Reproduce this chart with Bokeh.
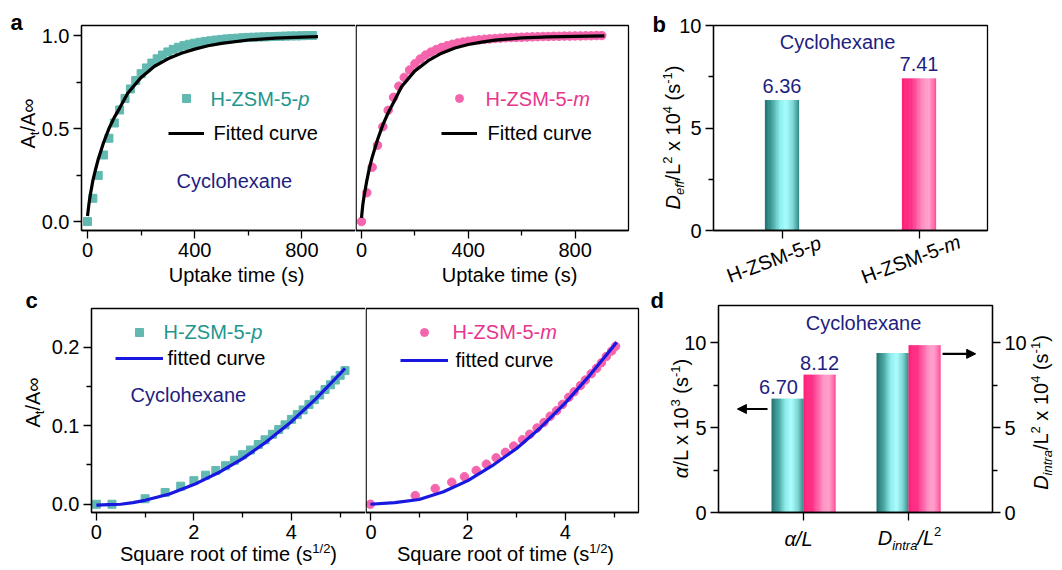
import math
from bokeh.plotting import figure
from bokeh.models import (Range1d, FixedTicker, PrintfTickFormatter, Label, Legend, LegendItem,
                          LinearAxis, Arrow, NormalHead, BoxAnnotation)
from bokeh.layouts import row, column
from bokeh.embed import file_html
from bokeh.resources import INLINE

FONT = "Liberation Sans"

# ------------------------------------------------------------------ data
# panel a : uptake curves (time in s, A_t/A_inf)
t_p = [0, 20, 40, 60, 80, 100, 120, 140, 160, 180, 200, 220, 240, 260, 280, 300, 320, 340,
       360, 380, 400, 420, 440, 460, 480, 500, 520, 540, 560, 580, 600, 620, 640, 660, 680,
       700, 720, 740, 760, 780, 800, 820, 840]
A_p = [0.000, 0.125, 0.248, 0.358, 0.448, 0.530, 0.600, 0.662, 0.713, 0.758, 0.795, 0.826,
       0.852, 0.875, 0.895, 0.912, 0.926, 0.937, 0.946, 0.953, 0.959, 0.964, 0.968, 0.972,
       0.976, 0.979, 0.982, 0.984, 0.986, 0.988, 0.990, 0.991, 0.992, 0.993, 0.994, 0.995,
       0.996, 0.997, 0.998, 0.998, 0.999, 1.000, 1.000]
fit_t_p = [0, 5, 10, 20, 30, 40, 60, 80, 100, 120, 150, 200, 250, 300, 350, 400, 450, 500,
           600, 700, 800, 860]
fit_A_p = [0.03, 0.09, 0.14, 0.22, 0.28, 0.335, 0.425, 0.50, 0.56, 0.61, 0.69, 0.775, 0.835,
           0.875, 0.905, 0.927, 0.945, 0.958, 0.976, 0.986, 0.992, 0.994]

t_m = [0, 20, 40, 60, 80, 100, 120, 140, 160, 180, 200, 220, 240, 260, 280, 300, 320, 340,
       360, 380, 400, 420, 440, 460, 480, 500, 520, 540, 560, 580, 600, 620, 640, 660, 680,
       700, 720, 740, 760, 780, 800, 820, 840, 860, 880, 900]
A_m = [0.000, 0.155, 0.292, 0.410, 0.510, 0.598, 0.668, 0.728, 0.775, 0.815, 0.848, 0.874,
       0.895, 0.911, 0.925, 0.936, 0.945, 0.953, 0.960, 0.965, 0.970, 0.974, 0.977, 0.980,
       0.982, 0.984, 0.986, 0.988, 0.989, 0.990, 0.991, 0.992, 0.993, 0.994, 0.995, 0.995,
       0.996, 0.996, 0.997, 0.997, 0.998, 0.998, 0.999, 0.999, 1.000, 1.000]
fit_t_m = [0, 5, 10, 20, 30, 40, 60, 80, 100, 120, 150, 200, 250, 300, 350, 400, 450, 500,
           600, 700, 800, 910]
fit_A_m = [0.02, 0.09, 0.14, 0.22, 0.29, 0.345, 0.44, 0.52, 0.585, 0.64, 0.725, 0.81, 0.865,
           0.905, 0.933, 0.952, 0.965, 0.975, 0.987, 0.993, 0.996, 0.998]

# panel c : initial uptake vs square root of time
sq_p = [0, 0.32, 1.0, 1.41, 1.73, 2.0, 2.24, 2.45, 2.65, 2.83, 3.0, 3.16, 3.32, 3.46, 3.61,
        3.74, 3.87, 4.0, 4.12, 4.24, 4.36, 4.47, 4.58, 4.69, 4.80, 4.90, 5.0, 5.10]
Ai_p = [0.000, 0.000, 0.007, 0.015, 0.023, 0.030, 0.037, 0.043, 0.049, 0.056, 0.063, 0.069,
        0.076, 0.082, 0.089, 0.095, 0.101, 0.108, 0.114, 0.120, 0.127, 0.133, 0.139, 0.146,
        0.152, 0.158, 0.164, 0.170]
fit_sq_p = [0, 0.25, 0.5, 0.75, 1.0, 1.5, 2.0, 2.5, 3.0, 3.5, 4.0, 4.5, 5.0, 5.1]
fit_Ai_p = [-0.001, -0.0005, 0.0, 0.002, 0.005, 0.013, 0.025, 0.040, 0.058, 0.080, 0.105,
            0.134, 0.166, 0.173]

sq_m = [0, 0.92, 1.33, 1.67, 1.93, 2.17, 2.38, 2.58, 2.77, 2.94, 3.12, 3.27, 3.42, 3.56,
        3.69, 3.82, 3.94, 4.07, 4.18, 4.31, 4.41, 4.53, 4.64, 4.74, 4.84, 4.95, 5.03]
Ai_m = [0.000, 0.011, 0.020, 0.028, 0.035, 0.043, 0.051, 0.059, 0.066, 0.074, 0.082, 0.089,
        0.097, 0.104, 0.112, 0.119, 0.127, 0.136, 0.143, 0.151, 0.158, 0.166, 0.173, 0.180,
        0.188, 0.195, 0.201]
fit_sq_m = [0, 0.5, 1.0, 1.5, 2.0, 2.5, 3.0, 3.5, 4.0, 4.5, 5.0, 5.05]
fit_Ai_m = [0.0, 0.002, 0.006, 0.016, 0.030, 0.049, 0.071, 0.098, 0.129, 0.164, 0.202, 0.206]

# panels b, d : bar values
samples = ["H-ZSM-5-", "H-ZSM-5-"]
sample_suffix = ["p", "m"]
deff = [6.36, 7.41]          # D_eff/L^2 x 10^4 (s^-1)
alpha_L = [6.70, 8.12]       # alpha/L x 10^3 (s^-1)
dintra = [9.40, 9.85]        # D_intra/L^2 x 10^4 (s^-1)

# ------------------------------------------------------------------ style
TEAL_M = "#62b9b1"
TEAL_T = "#22968c"
PINK_M = "#f565ad"
PINK_T = "#e8368d"
NAVY = "#1e1e80"
BLUE = "#1818e0"
CYAN_STOPS = [(0.0, "#1d6f6c"), (0.2, "#3d9d99"), (0.45, "#8eeeee"), (0.62, "#a6fdfd"),
              (0.82, "#7cd6d4"), (1.0, "#2c8581")]
PINK_STOPS = [(0.0, "#ff1a73"), (0.3, "#ff3088"), (0.6, "#ff8cc0"), (0.78, "#ffa2cd"),
              (1.0, "#ff4b98")]

NBSP = "\u00a0"
CW = {' ': .278, NBSP: .278, '(': .333, ')': .333, '-': .333, '.': .278, '/': .278,
      'A': .667, 'C': .722, 'D': .722, 'F': .611, 'H': .722, 'L': .556, 'M': .833, 'S': .667,
      'U': .722, 'Z': .611, 'a': .556, 'c': .5, 'd': .556, 'e': .556, 'f': .278, 'h': .556,
      'i': .222, 'k': .5, 'l': .222, 'm': .833, 'n': .556, 'o': .556, 'p': .556, 'q': .556,
      'r': .333, 's': .5, 't': .278, 'u': .556, 'v': .5, 'x': .5, 'y': .5, '∞': .713, 'α': .578}
BASE_FIX = 0.38   # empirical: the label anchor behaves like the text's middle

ORIGIN = {}       # per figure: pixel position of the plot box's bottom-left corner


def text_w(s, size):
    return sum(CW.get(c, .556) for c in s) * size


def keep_spaces(s):
    # SVG collapses leading / trailing blanks: make them non-breaking
    n0 = len(s) - len(s.lstrip(" "))
    n1 = len(s) - len(s.rstrip(" "))
    core = s.strip(" ")
    return NBSP * n0 + core + NBSP * n1


def rich(p, segs, x=None, y=None, dx=0.0, dy=0.0, angle=0.0, align="left", vcenter=False,
         y_range_name="default"):
    """Rich text made of several Labels.  Without x/y the offsets are pixels from the
    plot box's bottom-left corner (y up); with x/y they are pixels from that data point."""
    if x is None:
        units, x, y = "screen", 0, 0
        bx, by = ORIGIN[p.id]
        dx, dy = dx + bx, dy + by
    else:
        units = "data"
    total = sum(text_w(s[0], s[1]) for s in segs)
    pos = {"left": 0.0, "center": -total / 2, "right": -total}[align]
    ca, sa = math.cos(angle), math.sin(angle)
    base = -0.36 * segs[0][1] if vcenter else 0.0
    for txt_, size, style, shift, color in segs:
        perp = base + shift + BASE_FIX * size
        ox = dx + pos * ca - perp * sa
        oy = dy + pos * sa + perp * ca
        p.add_layout(Label(x=x, y=y, x_units=units, y_units=units, x_offset=ox, y_offset=oy,
                           text=keep_spaces(txt_), angle=angle, text_font=FONT,
                           text_font_size=f"{size}px", text_font_style=style,
                           text_color=color, text_align="left", text_baseline="alphabetic",
                           y_range_name=y_range_name))
        pos += text_w(txt_, size)


def interp_color(stops, f):
    for (f0, c0), (f1, c1) in zip(stops, stops[1:]):
        if f0 <= f <= f1:
            u = (f - f0) / (f1 - f0)
            a = [int(c0[i:i + 2], 16) for i in (1, 3, 5)]
            b = [int(c1[i:i + 2], 16) for i in (1, 3, 5)]
            return "#%02x%02x%02x" % tuple(round(a[k] + (b[k] - a[k]) * u) for k in range(3))
    return stops[-1][1]


def gbar(p, xc, top, width, stops, n=60, y_range_name="default"):
    xs, tops, cols = [], [], []
    sw = width / n
    for i in range(n):
        xs.append(xc - width / 2 + (i + 0.5) * sw + (0.4 * sw if i < n - 1 else 0))
        tops.append(top)
        cols.append(interp_color(stops, (i + 0.5) / n))
    widths = [sw * 1.8 if i < n - 1 else sw for i in range(n)]
    p.vbar(x=xs, top=tops, bottom=0, width=widths, fill_color=cols, line_color=None,
           y_range_name=y_range_name)


def full_range(d0, d1, p0, p1, total):
    s = (d1 - d0) / (p1 - p0)
    return (d0 - p0 * s, d1 + (total - p1) * s)


def style_axis(ax, ticks, minor, fmt=None):
    ax.ticker = FixedTicker(ticks=ticks, minor_ticks=minor)
    ax.major_tick_out = 8
    ax.major_tick_in = 0
    ax.minor_tick_out = 5
    ax.minor_tick_in = 0
    ax.axis_line_color = "black"
    ax.axis_line_width = 1.3
    ax.major_tick_line_color = "black"
    ax.major_tick_line_width = 1.3
    ax.minor_tick_line_color = "black"
    ax.minor_tick_line_width = 1.3
    ax.major_label_text_font = FONT
    ax.major_label_text_font_size = "20px"
    ax.major_label_text_color = "black"
    ax.major_label_standoff = 4
    if fmt:
        ax.formatter = PrintfTickFormatter(format=fmt)


def make_fig(w, h, box_px, box_data, yaxis=True, edge=(0, 0)):
    """Figure whose frame fills the canvas; the visible plot box and its axes are
    placed at box_px = (left, top, right, bottom) pixels, showing box_data ranges.
    edge = pixel shifts of the drawn box's left / right edges."""
    bl, bt, br, bb = box_px
    x0, x1, y0, y1 = box_data
    xr = full_range(x0, x1, bl, br, w)
    yr = full_range(y0, y1, h - bb, h - bt, h)
    sx = (x1 - x0) / (br - bl)
    kw = {} if yaxis else {"y_axis_location": None}
    p = figure(width=w, height=h, x_range=Range1d(*xr), y_range=Range1d(*yr),
               output_backend="svg", toolbar_location=None, tools="",
               min_border_left=0, min_border_right=0, min_border_top=0, min_border_bottom=0,
               **kw)
    p.grid.visible = False
    p.outline_line_color = None
    p.background_fill_color = "white"
    p.border_fill_color = "white"
    p.xaxis[0].fixed_location = y0
    p.xaxis[0].bounds = (x0, x1)
    if yaxis:
        p.yaxis[0].fixed_location = x0
        p.yaxis[0].bounds = (y0, y1)
    p.add_layout(BoxAnnotation(left=x0 + edge[0] * sx, right=x1 + edge[1] * sx, bottom=y0,
                               top=y1, fill_color=None, fill_alpha=0, line_color="black",
                               line_width=1.3, line_alpha=1.0))
    ORIGIN[p.id] = (bl, h - bb)
    return p


def add_legend(p, rs, loc, gw, spacing):
    bx, by = ORIGIN[p.id]
    items = [LegendItem(label=" ", renderers=[r]) for r in rs]
    leg = Legend(items=items, location=(loc[0] + bx, loc[1] + by), orientation="vertical",
                 glyph_width=gw, glyph_height=20, label_width=1, label_height=20,
                 label_standoff=0, spacing=spacing, padding=0, margin=0,
                 border_line_color=None, background_fill_alpha=0, label_text_font_size="1px")
    p.add_layout(leg)


def sub(t, size=13, style="normal", color="black"):
    return (t, size, style, -4, color)


def sup(t, size=13, style="normal", color="black"):
    return (t, size, style, 8, color)


def txt(t, size=20, style="normal", color="black"):
    return (t, size, style, 0, color)


def frame_x(v, x0, x1, fw):
    return (v - x0) / (x1 - x0) * fw


HALF_PI = math.pi / 2
H_TOP, H_BOT = 288, 282

# ------------------------------------------------------------------ panel a (left)
BOX_A = (-22.4, 1000, -0.048, 1.054)
pa1 = make_fig(355, H_TOP, (81, 25, 355, 230), BOX_A, edge=(0, 3))
style_axis(pa1.xaxis[0], [0, 400, 800], [200, 600])
style_axis(pa1.yaxis[0], [0, 0.5, 1.0], [0.25, 0.75], "%.1f")
r1 = pa1.scatter(t_p, A_p, marker="square", size=8, color=TEAL_M)
r2 = pa1.line(fit_t_p, fit_A_p, line_width=3.2, color="black")
add_legend(pa1, [r1, r2], (87, 87), 36, 15)
rich(pa1, [txt("A"), sub("t"), txt("/A"), txt("∞")], dx=-46, dy=107, angle=HALF_PI,
     align="center")
rich(pa1, [txt("Uptake time (s)")], dx=155, dy=-52, align="center")
rich(pa1, [txt("a", 22, "bold")], dx=-71, dy=200)
rich(pa1, [txt(samples[0], color=TEAL_T), txt(sample_suffix[0], style="italic", color=TEAL_T)],
     dx=129, dy=124)
rich(pa1, [txt("Fitted curve")], dx=132, dy=90)
rich(pa1, [txt("Cyclohexane", color=NAVY)], dx=95, dy=42)

# ------------------------------------------------------------------ panel a (right)
pa2 = make_fig(285, H_TOP, (0, 25, 273, 230), BOX_A, yaxis=False, edge=(0.65, 0))
style_axis(pa2.xaxis[0], [0, 400, 800], [200, 600])
r3 = pa2.scatter(t_m, A_m, marker="circle", size=8.5, color=PINK_M)
r4 = pa2.line(fit_t_m, fit_A_m, line_width=3.2, color="black")
add_legend(pa2, [r3, r4], (86, 87), 36, 15)
rich(pa2, [txt("Uptake time (s)")], dx=154, dy=-52, align="center")
rich(pa2, [txt(samples[1], color=PINK_T), txt(sample_suffix[1], style="italic", color=PINK_T)],
     dx=130, dy=124)
rich(pa2, [txt("Fitted curve")], dx=132, dy=90)

# ------------------------------------------------------------------ panel b
BOX_B = (-0.5, 1.5, 0, 10)
FW = 274
pb = make_fig(422, H_TOP, (73, 25, 347, 230), BOX_B)
style_axis(pb.xaxis[0], [0, 1], [])
pb.xaxis[0].major_label_overrides = {0: "", 1: ""}
pb.xaxis[0].major_label_text_font_size = "0px"
style_axis(pb.yaxis[0], [0, 5, 10], [2.5, 7.5])
gbar(pb, 0, deff[0], 0.25, CYAN_STOPS)
gbar(pb, 1, deff[1], 0.25, PINK_STOPS)
for i, v in enumerate(deff):
    rich(pb, [txt(f"{v:.2f}", color=NAVY)], x=i, y=v, dy=7, align="center")
for i in range(2):
    rich(pb, [txt(samples[i]), txt(sample_suffix[i], style="italic")],
         dx=frame_x(i, BOX_B[0], BOX_B[1], FW) - 8, dy=-29, angle=0.36, align="center",
         vcenter=True)
rich(pb, [txt("D", style="italic"), sub("eff", style="italic"), txt("/L"), sup("2"),
          txt(" x 10"), sup("4"), txt(" (s"), sup("-1"), txt(")")],
     dx=-33, dy=93, angle=HALF_PI, align="center")
rich(pb, [txt("b", 22, "bold")], dx=-61, dy=198)
rich(pb, [txt("Cyclohexane", color=NAVY)], dx=124, dy=181, align="center")

# ------------------------------------------------------------------ panel c (left)
BOX_C = (-0.1, 5.52, -0.0105, 0.249)
pc1 = make_fig(365, H_BOT, (91, 20, 365, 224), BOX_C, edge=(0, 3))
style_axis(pc1.xaxis[0], [0, 2, 4], [1, 3, 5])
style_axis(pc1.yaxis[0], [0, 0.1, 0.2], [0.05, 0.15], "%.1f")
r5 = pc1.scatter(sq_p, Ai_p, marker="square", size=8, color=TEAL_M)
r6 = pc1.line(fit_sq_p, fit_Ai_p, line_width=3.2, color=BLUE)
add_legend(pc1, [r5, r6], (24, 144), 48, 6)
rich(pc1, [txt("A"), sub("t"), txt("/A"), txt("∞")], dx=-51, dy=110, angle=HALF_PI,
     align="center")
rich(pc1, [txt("Square root of time (s"), sup("1/2"), txt(")")], dx=137, dy=-49,
     align="center")
rich(pc1, [txt("c", 22, "bold")], dx=-66, dy=203.5)
rich(pc1, [txt(samples[0], color=TEAL_T), txt(sample_suffix[0], style="italic", color=TEAL_T)],
     dx=72, dy=173)
rich(pc1, [txt("fitted curve")], dx=76, dy=147)
rich(pc1, [txt("Cyclohexane", color=NAVY)], dx=39, dy=110)

# ------------------------------------------------------------------ panel c (right)
BOX_C2 = (-0.1, 5.5, -0.0105, 0.249)
pc2 = make_fig(280, H_BOT, (0, 20, 273, 224), BOX_C2, yaxis=False, edge=(0.65, 0))
style_axis(pc2.xaxis[0], [0, 2, 4], [1, 3, 5])
r7 = pc2.scatter(sq_m, Ai_m, marker="circle", size=8.5, color=PINK_M)
r8 = pc2.line(fit_sq_m, fit_Ai_m, line_width=3.2, color=BLUE)
add_legend(pc2, [r7, r8], (35, 142), 48, 8)
rich(pc2, [txt("Square root of time (s"), sup("1/2"), txt(")")], dx=140, dy=-49,
     align="center")
rich(pc2, [txt(samples[1], color=PINK_T), txt(sample_suffix[1], style="italic", color=PINK_T)],
     dx=87, dy=173)
rich(pc2, [txt("fitted curve")], dx=90, dy=145)

# ------------------------------------------------------------------ panel d
BOX_D = (-0.81, 1.8, 0, 12.2)
pd_ = make_fig(417, H_BOT, (73, 17, 347, 224), BOX_D)
pd_.extra_y_ranges = {"right": Range1d(pd_.y_range.start, pd_.y_range.end)}
style_axis(pd_.xaxis[0], [0, 1], [])
pd_.xaxis[0].major_label_overrides = {0: "", 1: ""}
pd_.xaxis[0].major_label_text_font_size = "0px"
style_axis(pd_.yaxis[0], [0, 5, 10], [2.5, 7.5])
rax = LinearAxis(y_range_name="right", fixed_location=BOX_D[1], bounds=(BOX_D[2], BOX_D[3]))
style_axis(rax, [0, 5, 10], [2.5, 7.5])
pd_.add_layout(rax, "right")
BW = 0.305
gbar(pd_, 0 - BW / 2, alpha_L[0], BW, CYAN_STOPS)
gbar(pd_, 0 + BW / 2, alpha_L[1], BW, PINK_STOPS)
gbar(pd_, 1 - BW / 2, dintra[0], BW, CYAN_STOPS, y_range_name="right")
gbar(pd_, 1 + BW / 2, dintra[1], BW, PINK_STOPS, y_range_name="right")
val_dx = [-9, 0]
for i, v in enumerate(alpha_L):
    rich(pd_, [txt(f"{v:.2f}", color=NAVY)], x=(i * 2 - 1) * BW / 2, y=v,
         dx=val_dx[i], dy=4, align="center")
pd_.add_layout(Arrow(end=NormalHead(size=9, fill_color="black", line_color="black"),
                     x_start=-0.343, y_start=6.1, x_end=-0.63, y_end=6.1, line_width=2.2))
pd_.add_layout(Arrow(end=NormalHead(size=9, fill_color="black", line_color="black"),
                     x_start=1.324, y_start=9.35, x_end=1.64, y_end=9.35, line_width=2.2,
                     y_range_name="right"))
rich(pd_, [txt("α/L", style="italic")], dx=frame_x(0, BOX_D[0], BOX_D[1], FW) - 5, dy=-34,
     align="center")
rich(pd_, [txt("D", style="italic"), ("intra", 13, "italic", -5, "black"),
           txt("/L", style="italic"), ("2", 13, "normal", 9, "black")],
     dx=frame_x(1, BOX_D[0], BOX_D[1], FW) + 1, dy=-33, align="center")
rich(pd_, [txt("α", style="italic"), txt("/L x 10"), sup("3"), txt(" (s"), sup("-1"),
           txt(")")], dx=-30, dy=94, angle=HALF_PI, align="center")
rich(pd_, [txt("D", style="italic"), sub("intra", style="italic"), txt("/L"), sup("2"),
           txt(" x 10"), sup("4"), txt(" (s"), sup("-1"), txt(")")],
     dx=330, dy=100, angle=HALF_PI, align="center")
rich(pd_, [txt("d", 22, "bold")], dx=-68, dy=203.5)
rich(pd_, [txt("Cyclohexane", color=NAVY)], dx=145, dy=182, align="center")

layout = column(row(pa1, pa2, pb, spacing=0), row(pc1, pc2, pd_, spacing=0), spacing=0)
open("out.html", "w").write(file_html(layout, INLINE, title="Cyclohexane uptake"))
